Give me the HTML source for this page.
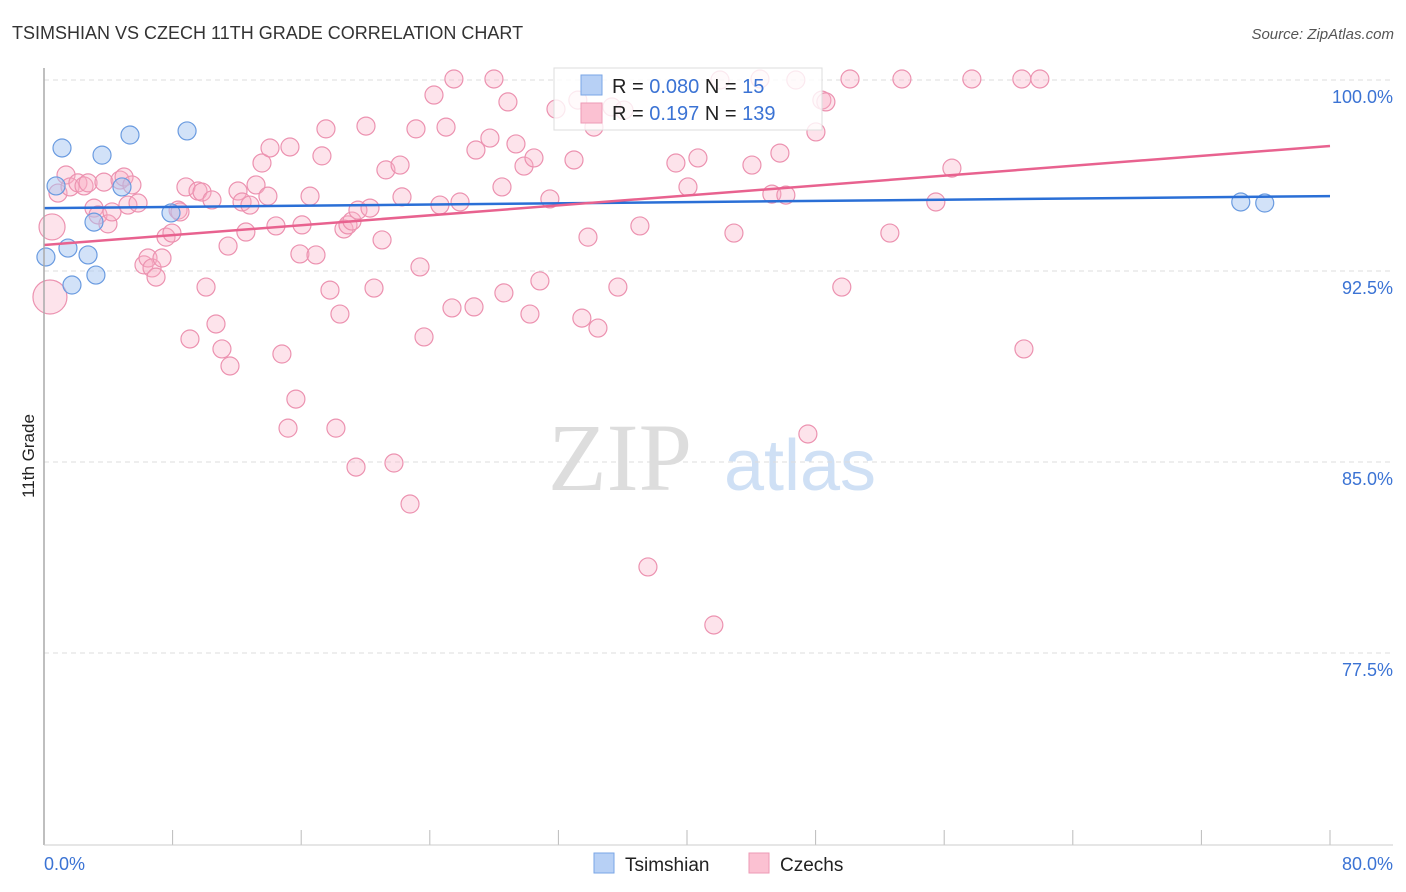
<!DOCTYPE html>
<html><head><meta charset="utf-8"><style>
body{margin:0;background:#fff;font-family:"Liberation Sans",sans-serif}
#wrap{position:relative;width:1406px;height:892px;overflow:hidden}
</style></head><body>
<div id="wrap">
<svg id="svg" width="1406" height="892" xmlns="http://www.w3.org/2000/svg">
<text x="12" y="39" font-size="18" fill="#333">TSIMSHIAN VS CZECH 11TH GRADE CORRELATION CHART</text>
<text x="1394" y="39" font-size="15" fill="#555" font-style="italic" text-anchor="end">Source: ZipAtlas.com</text>
<text x="34" y="456" font-size="17" fill="#222" transform="rotate(-90 34 456)" text-anchor="middle">11th Grade</text>
<text x="620" y="490" font-size="96" fill="#ddd" font-family="Liberation Serif,serif" text-anchor="middle">ZIP</text>
<text x="800" y="490" font-size="72" fill="#cfe0f5" text-anchor="middle">atlas</text>
<g id="grid"></g><g id="pts"></g><g id="lines"></g>
<line x1="44" y1="68" x2="44" y2="845" stroke="#aaa" stroke-width="1.5"/>
<line x1="44" y1="845" x2="1393" y2="845" stroke="#ccc"/>
<text x="44" y="870" font-size="18" fill="#3b73d4">0.0%</text>
<text x="1393" y="870" font-size="18" fill="#3b73d4" text-anchor="end">80.0%</text>
<g>
<rect x="554" y="68" width="268" height="62" fill="#fff" fill-opacity="0.8" stroke="#ddd"/>
<rect x="581" y="75" width="21" height="20" fill="#b7d0f5" stroke="#7aa6e6"/>
<rect x="581" y="103" width="21" height="20" fill="#fbc1d2" stroke="#ee9ab5"/>
<text x="612" y="93" font-size="20" fill="#222">R = <tspan fill="#3b73d4">0.080</tspan>   N =   <tspan fill="#3b73d4">15</tspan></text>
<text x="612" y="120" font-size="20" fill="#222">R =  <tspan fill="#3b73d4"> 0.197</tspan>   N = <tspan fill="#3b73d4">139</tspan></text>
</g>
<g>
<rect x="594" y="853" width="20" height="20" fill="#b7d0f5" stroke="#7aa6e6"/>
<text x="625" y="871" font-size="19" fill="#222">Tsimshian</text>
<rect x="749" y="853" width="20" height="20" fill="#fbc1d2" stroke="#ee9ab5"/>
<text x="780" y="871" font-size="19" fill="#222">Czechs</text>
</g>
</svg>
</div>
<script>
const yTicks=[100,92.5,85,77.5];
const yTickLabels=["100.0%","92.5%","85.0%","77.5%"];
const xTicks=[0,8,16,24,32,40,48,56,64,72,80];
const blueX=[0.12,0.75,1.12,1.49,1.74,2.74,3.23,3.61,3.11,4.85,5.35,7.9,8.9,74.45,75.94];
const blueY=[93.05,95.84,97.33,93.40,91.95,93.13,92.34,97.05,94.42,95.80,97.84,94.78,98.0,95.21,95.17];
const pinkX=[0.37,0.50,0.87,1.37,1.62,2.11,2.49,2.74,3.11,3.36,3.98,3.73,4.23,4.73,4.98,5.22,5.47,5.85,6.22,6.47,6.72,6.97,7.34,7.59,7.96,8.34,8.46,8.83,9.08,9.58,9.83,10.08,10.45,10.70,11.07,11.45,11.57,12.07,12.32,12.56,12.81,13.19,13.56,13.93,14.06,14.43,14.80,15.30,15.67,15.18,15.92,16.05,16.55,16.92,17.29,17.54,17.79,18.16,18.41,18.66,18.91,19.16,19.41,19.53,20.03,20.28,20.53,21.03,21.27,21.77,22.15,22.27,22.77,23.14,23.39,23.64,24.26,24.63,25.01,25.38,25.50,25.88,26.75,26.87,27.74,27.99,28.49,28.61,28.86,29.36,29.86,30.23,30.48,30.85,31.47,31.85,32.97,33.46,33.84,34.21,34.46,35.70,37.07,37.57,39.31,40.06,40.68,41.67,42.05,42.92,44.04,44.54,45.28,45.78,46.15,47.52,48.02,48.39,48.64,49.63,50.14,52.62,53.37,55.48,56.48,57.72,60.83,60.96,61.95,33.21,35.33,36.08,46.77];
const pinkY=[91.48,94.23,95.56,96.27,95.80,95.96,95.84,95.96,94.97,94.70,94.35,95.99,94.82,96.07,96.19,95.09,95.88,95.17,92.74,93.01,92.62,92.26,93.01,93.83,93.99,94.89,94.82,95.80,89.83,95.64,95.60,91.87,95.29,90.42,89.44,93.48,88.77,95.64,95.21,94.03,95.09,95.88,96.74,95.44,97.33,94.27,89.24,97.37,87.47,86.33,93.17,94.31,95.44,93.13,97.02,98.08,91.75,86.33,90.81,94.15,94.31,94.46,84.80,94.89,98.19,94.97,91.83,93.72,96.47,84.96,96.66,95.41,83.35,98.08,92.66,89.91,99.41,95.09,98.15,91.05,100.04,95.21,91.09,97.25,97.72,100.04,95.80,91.64,99.14,97.49,96.62,90.81,96.94,92.11,95.33,98.86,96.86,90.65,93.83,98.15,90.26,91.87,94.27,80.88,96.74,95.80,96.94,78.60,100.0,93.99,96.66,100.04,95.52,97.13,95.48,86.10,97.96,99.21,99.14,91.87,100.04,93.99,100.04,95.21,96.54,100.04,100.04,89.44,100.04,99.21,98.94,98.82,100.0];
const pinkSize=[17,13];
const blueTrend=[94.97,95.44];
const pinkTrend=[93.52,97.41];
const NS="http://www.w3.org/2000/svg";
function sx(v){return 44+v/80*1286;}
function sy(v){return 80+(100-v)/30*764;}
function mk(t,a,p){const e=document.createElementNS(NS,t);for(const k in a)e.setAttribute(k,a[k]);p.appendChild(e);return e;}
const grid=document.getElementById('grid');
yTicks.forEach((v,i)=>{
 const l=mk('line',{x1:44,x2:1393,y1:sy(v),y2:sy(v),stroke:'#ddd','stroke-dasharray':'5,4'},grid);
 
 
 const t=mk('text',{x:1393,y:sy(v)+23,'font-size':18,fill:'#3b73d4','text-anchor':'end'},grid);
 t.textContent=yTickLabels[i];
 
 
});
xTicks.forEach(v=>{
 const l=mk('line',{x1:sx(v),x2:sx(v),y1:830,y2:845,stroke:'#bbb'},grid);
 
 
});
const pts=document.getElementById('pts');
pinkX.forEach((x,i)=>{
 const c=mk('circle',{cx:sx(x),cy:sy(pinkY[i]),r:pinkSize[i]||9,fill:'rgba(248,175,198,0.35)',stroke:'#ec92b0','stroke-width':1.2},pts);
 
 
});
blueX.forEach((x,i)=>{
 const c=mk('circle',{cx:sx(x),cy:sy(blueY[i]),r:9,fill:'rgba(165,198,242,0.5)',stroke:'#6a9be0','stroke-width':1.2},pts);
 
 
});
const lines=document.getElementById('lines');
const bl=mk('line',{x1:sx(0),y1:sy(blueTrend[0]),x2:sx(80),y2:sy(blueTrend[1]),stroke:'#2a6fd6','stroke-width':2.5},lines);


const pl=mk('line',{x1:sx(0),y1:sy(pinkTrend[0]),x2:sx(80),y2:sy(pinkTrend[1]),stroke:'#e8628f','stroke-width':2.5},lines);


</script>
</body></html>
